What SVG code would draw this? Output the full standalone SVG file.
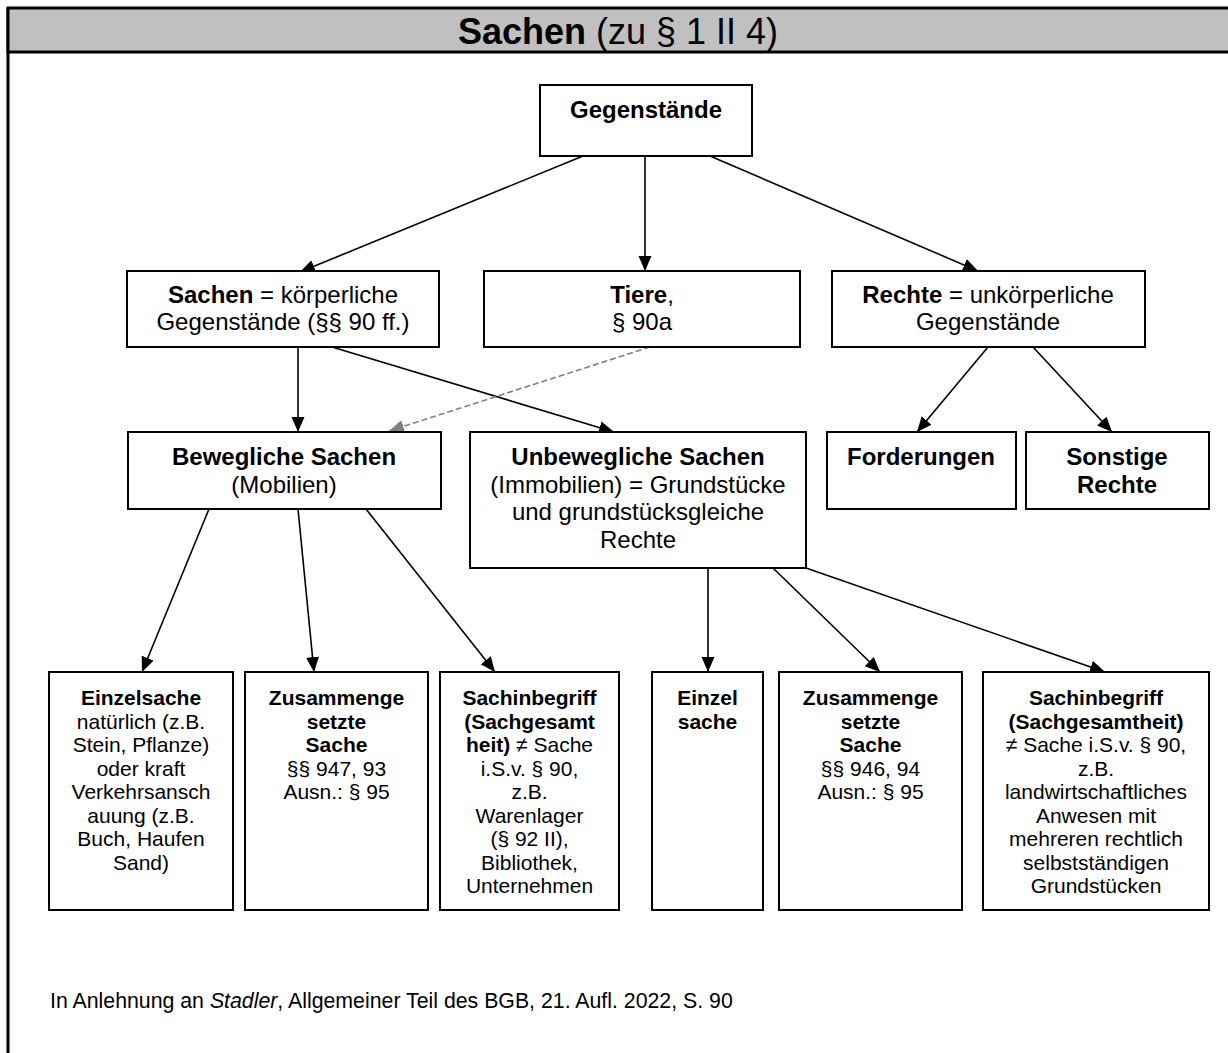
<svg xmlns="http://www.w3.org/2000/svg" width="1228" height="1053" viewBox="0 0 1228 1053">
<style>
text{font-family:"Liberation Sans",Arial,sans-serif;fill:#000}
.t{font-size:24px;text-anchor:middle}
.s{font-size:21px;text-anchor:middle}
.b{font-weight:bold}
.box{fill:#fff;stroke:#000;stroke-width:2}
.c{stroke:#000;stroke-width:1.6;fill:none;marker-end:url(#ah)}
.d{stroke:#808080;stroke-width:1.6;fill:none;stroke-dasharray:6 3;marker-end:url(#ahg)}
</style>
<defs>
<marker id="ah" markerUnits="userSpaceOnUse" markerWidth="16" markerHeight="14" refX="15" refY="6.5" orient="auto"><path d="M0,0 L15,6.5 L0,13 z" fill="#000"/></marker>
<marker id="ahg" markerUnits="userSpaceOnUse" markerWidth="16" markerHeight="14" refX="15" refY="6.5" orient="auto"><path d="M0,0 L15,6.5 L0,13 z" fill="#808080"/></marker>
</defs>
<rect x="0" y="0" width="1228" height="1053" fill="#fff"/>
<g id="frame">
<line x1="8" y1="8" x2="8" y2="1053" stroke="#000" stroke-width="3"/>
<rect x="8" y="8" width="1226" height="44" fill="#c0c0c0" stroke="#000" stroke-width="3"/>
<text x="618" y="44" style="font-size:36px;text-anchor:middle"><tspan class="b">Sachen</tspan> (zu § 1 II 4)</text>
</g>
<g id="connectors">
<line class="c" x1="583" y1="156" x2="300" y2="272"/>
<line class="c" x1="645" y1="156" x2="645" y2="271"/>
<line class="c" x1="710" y1="156" x2="978" y2="271"/>
<line class="c" x1="298" y1="347" x2="298" y2="432"/>
<line class="c" x1="332" y1="347" x2="614" y2="432"/>
<line class="d" x1="650" y1="347" x2="389" y2="431"/>
<line class="c" x1="988" y1="347" x2="917" y2="432"/>
<line class="c" x1="1033" y1="347" x2="1112" y2="432"/>
<line class="c" x1="209" y1="509" x2="142" y2="672"/>
<line class="c" x1="298" y1="509" x2="314" y2="672"/>
<line class="c" x1="366" y1="509" x2="495" y2="672"/>
<line class="c" x1="708" y1="568" x2="708" y2="672"/>
<line class="c" x1="773" y1="568" x2="880" y2="672"/>
<line class="c" x1="806" y1="568" x2="1105" y2="672"/>
</g>
<g id="gegenstaende">
<rect class="box" x="540" y="85" width="212" height="71"/>
<text class="t b" x="646" y="118">Gegenstände</text>
</g>
<g id="sachen">
<rect class="box" x="127" y="271" width="312" height="76"/>
<text class="t" x="283" y="303"><tspan class="b">Sachen</tspan> = körperliche</text>
<text class="t" x="283" y="330">Gegenstände (§§ 90 ff.)</text>
</g>
<g id="tiere">
<rect class="box" x="484" y="271" width="316" height="76"/>
<text class="t" x="642" y="303"><tspan class="b">Tiere</tspan>,</text>
<text class="t" x="642" y="330">§ 90a</text>
</g>
<g id="rechte">
<rect class="box" x="832" y="271" width="313" height="76"/>
<text class="t" x="988" y="303"><tspan class="b">Rechte</tspan> = unkörperliche</text>
<text class="t" x="988" y="330">Gegenstände</text>
</g>
<g id="bewegliche">
<rect class="box" x="128" y="432" width="313" height="77"/>
<text class="t b" x="284" y="465">Bewegliche Sachen</text>
<text class="t" x="284" y="493">(Mobilien)</text>
</g>
<g id="unbewegliche">
<rect class="box" x="470" y="432" width="336" height="136"/>
<text class="t b" x="638" y="465">Unbewegliche Sachen</text>
<text class="t" x="638" y="493">(Immobilien) = Grundstücke</text>
<text class="t" x="638" y="520">und grundstücksgleiche</text>
<text class="t" x="638" y="548">Rechte</text>
</g>
<g id="forderungen">
<rect class="box" x="827" y="432" width="189" height="77"/>
<text class="t b" x="921" y="465">Forderungen</text>
</g>
<g id="sonstige">
<rect class="box" x="1026" y="432" width="183" height="77"/>
<text class="t b" x="1117" y="465">Sonstige</text>
<text class="t b" x="1117" y="493">Rechte</text>
</g>
<g id="einzelsache1">
<rect class="box" x="49" y="672" width="184" height="238"/>
<text class="s" x="141" y="705"><tspan class="b">Einzelsache</tspan><tspan x="141" dy="23.5">natürlich (z.B.</tspan><tspan x="141" dy="23.5">Stein, Pflanze)</tspan><tspan x="141" dy="23.5">oder kraft</tspan><tspan x="141" dy="23.5">Verkehrsansch</tspan><tspan x="141" dy="23.5">auung (z.B.</tspan><tspan x="141" dy="23.5">Buch, Haufen</tspan><tspan x="141" dy="23.5">Sand)</tspan></text>
</g>
<g id="zusammengesetzt1">
<rect class="box" x="245" y="672" width="183" height="238"/>
<text class="s" x="336.5" y="705"><tspan class="b">Zusammenge</tspan><tspan class="b" x="336.5" dy="23.5">setzte</tspan><tspan class="b" x="336.5" dy="23.5">Sache</tspan><tspan x="336.5" dy="23.5">§§ 947, 93</tspan><tspan x="336.5" dy="23.5">Ausn.: § 95</tspan></text>
</g>
<g id="sachinbegriff1">
<rect class="box" x="440" y="672" width="179" height="238"/>
<text class="s" x="529.5" y="705"><tspan class="b">Sachinbegriff</tspan><tspan class="b" x="529.5" dy="23.5">(Sachgesamt</tspan><tspan x="529.5" dy="23.5"><tspan class="b">heit)</tspan> ≠ Sache</tspan><tspan x="529.5" dy="23.5">i.S.v. § 90,</tspan><tspan x="529.5" dy="23.5">z.B.</tspan><tspan x="529.5" dy="23.5">Warenlager</tspan><tspan x="529.5" dy="23.5">(§ 92 II),</tspan><tspan x="529.5" dy="23.5">Bibliothek,</tspan><tspan x="529.5" dy="23.5">Unternehmen</tspan></text>
</g>
<g id="einzelsache2">
<rect class="box" x="652" y="672" width="111" height="238"/>
<text class="s b" x="707.5" y="705">Einzel<tspan x="707.5" dy="23.5">sache</tspan></text>
</g>
<g id="zusammengesetzt2">
<rect class="box" x="779" y="672" width="183" height="238"/>
<text class="s" x="870.5" y="705"><tspan class="b">Zusammenge</tspan><tspan class="b" x="870.5" dy="23.5">setzte</tspan><tspan class="b" x="870.5" dy="23.5">Sache</tspan><tspan x="870.5" dy="23.5">§§ 946, 94</tspan><tspan x="870.5" dy="23.5">Ausn.: § 95</tspan></text>
</g>
<g id="sachinbegriff2">
<rect class="box" x="983" y="672" width="226" height="238"/>
<text class="s" x="1096" y="705"><tspan class="b">Sachinbegriff</tspan><tspan class="b" x="1096" dy="23.5">(Sachgesamtheit)</tspan><tspan x="1096" dy="23.5">≠ Sache i.S.v. § 90,</tspan><tspan x="1096" dy="23.5">z.B.</tspan><tspan x="1096" dy="23.5">landwirtschaftliches</tspan><tspan x="1096" dy="23.5">Anwesen mit</tspan><tspan x="1096" dy="23.5">mehreren rechtlich</tspan><tspan x="1096" dy="23.5">selbstständigen</tspan><tspan x="1096" dy="23.5">Grundstücken</tspan></text>
</g>
<g id="footer">
<text x="50" y="1008" style="font-size:21.3px">In Anlehnung an <tspan font-style="italic">Stadler</tspan>, Allgemeiner Teil des BGB, 21. Aufl. 2022, S. 90</text>
</g>
</svg>
